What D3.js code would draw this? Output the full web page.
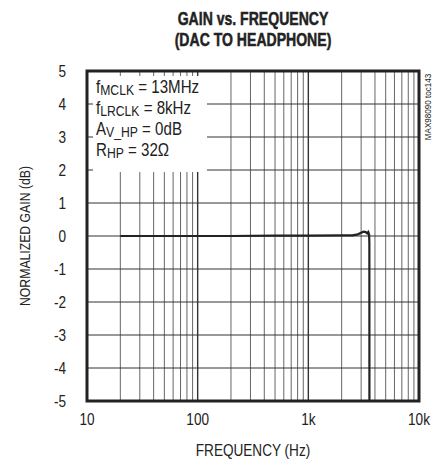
<!DOCTYPE html>
<html>
<head>
<meta charset="utf-8">
<script src="https://cdn.jsdelivr.net/npm/d3@7"></script>
<style>
  body { margin: 0; background: #fff; }
  text { font-family: "Liberation Sans", Arial, sans-serif; fill: #222; }
</style>
</head>
<body>
<svg id="chart" width="444" height="463"></svg>
<script>
var freqs = [20, 50, 100, 200, 500, 1000, 2000, 2500, 2800, 3000, 3150, 3300, 3400, 3480, 3540, 3560, 3565];
var gains = [0, 0, 0, 0, 0.01, 0.01, 0.02, 0.02, 0.05, 0.1, 0.13, 0.12, 0.08, 0.12, 0.05, -0.2, -5];
var xTicks = [10, 100, 1000, 10000];
var xTickLabels = ["10", "100", "1k", "10k"];
var yTicks = [5, 4, 3, 2, 1, 0, -1, -2, -3, -4, -5];
var notes = [["f", "MCLK", " = 13MHz"], ["f", "LRCLK", " = 8kHz"], ["A", "V_HP", " = 0dB"], ["R", "HP", " = 32\u03A9"]];

var margin = {top: 71, right: 25, bottom: 62, left: 87},
  width = 444 - margin.left - margin.right,
  height = 463 - margin.top - margin.bottom;

var svg = d3.select("#chart");
var g = svg.append("g").attr("transform", "translate(" + margin.left + "," + margin.top + ")");

var x = d3.scaleLog().domain([10, 10000]).range([0, width]);
var y = d3.scaleLinear().domain([-5, 5]).range([height, 0]);

// condensed text: no narrow font here, so squeeze horizontally
function addText(parent, tx, ty, str, size, sx, anchor, rot) {
  return parent.append("text")
    .attr("transform", "translate(" + tx + "," + ty + ")" + (rot ? " rotate(" + rot + ")" : "") + " scale(" + sx + ",1)")
    .attr("font-size", size)
    .attr("text-anchor", anchor || "start")
    .text(str);
}

// grid: 2..9 in every decade
var minor = [];
for (var d = 10; d < 10000; d *= 10) {
  for (var k = 2; k <= 9; k++) minor.push(d * k);
}
g.selectAll(".vgrid").data(minor).enter().append("line")
  .attr("x1", function(d) { return x(d); }).attr("x2", function(d) { return x(d); })
  .attr("y1", 0).attr("y2", height)
  .attr("stroke", "#666").attr("stroke-width", 1);
g.selectAll(".vmajor").data([100, 1000]).enter().append("line")
  .attr("x1", function(d) { return x(d); }).attr("x2", function(d) { return x(d); })
  .attr("y1", 0).attr("y2", height)
  .attr("stroke", "#333").attr("stroke-width", 1.4);
g.selectAll(".hgrid").data(yTicks).enter().append("line")
  .attr("x1", 0).attr("x2", width)
  .attr("y1", function(d) { return y(d); }).attr("y2", function(d) { return y(d); })
  .attr("stroke", "#333").attr("stroke-width", 1);

// white box behind notes
g.append("rect").attr("x", 6).attr("y", 5).attr("width", 114).attr("height", 96).attr("fill", "#fff");

// curve
var line = d3.line().x(function(d) { return x(d[0]); }).y(function(d) { return y(d[1]); });
g.append("path").datum(d3.zip(freqs, gains))
  .attr("d", line).attr("fill", "none").attr("stroke", "#222").attr("stroke-width", 2.2);

// frame
g.append("rect").attr("width", width).attr("height", height)
  .attr("fill", "none").attr("stroke", "#222").attr("stroke-width", 3);

// notes
notes.forEach(function(n, i) {
  var t = addText(g, 9, 22 + i * 21, "", 18, 0.84);
  t.append("tspan").text(n[0]);
  t.append("tspan").attr("font-size", 14.5).attr("dy", 2).text(n[1]);
  t.append("tspan").attr("dy", -2).text(n[2]);
});

// tick labels
yTicks.forEach(function(d) {
  addText(g, -21, y(d) + 6, d, 17, 0.8, "end");
});
xTicks.forEach(function(d, i) {
  addText(g, x(d), height + 24, xTickLabels[i], 17, 0.8, "middle");
});

// axis titles
addText(g, width / 2, height + 55, "FREQUENCY (Hz)", 17, 0.8, "middle");
addText(g, -57, height / 2, "NORMALIZED GAIN (dB)", 15.3, 0.8, "middle", -90);

// title
addText(svg, 253, 25, "GAIN vs. FREQUENCY", 18.5, 0.76, "middle")
  .attr("font-weight", "bold").attr("stroke", "#222").attr("stroke-width", 0.5);
addText(svg, 253, 46, "(DAC TO HEADPHONE)", 18.5, 0.76, "middle")
  .attr("font-weight", "bold").attr("stroke", "#222").attr("stroke-width", 0.5);

// side id
addText(svg, 431, 107, "MAX98090 toc143", 9.5, 0.85, "middle", -90);
</script>
</body>
</html>
